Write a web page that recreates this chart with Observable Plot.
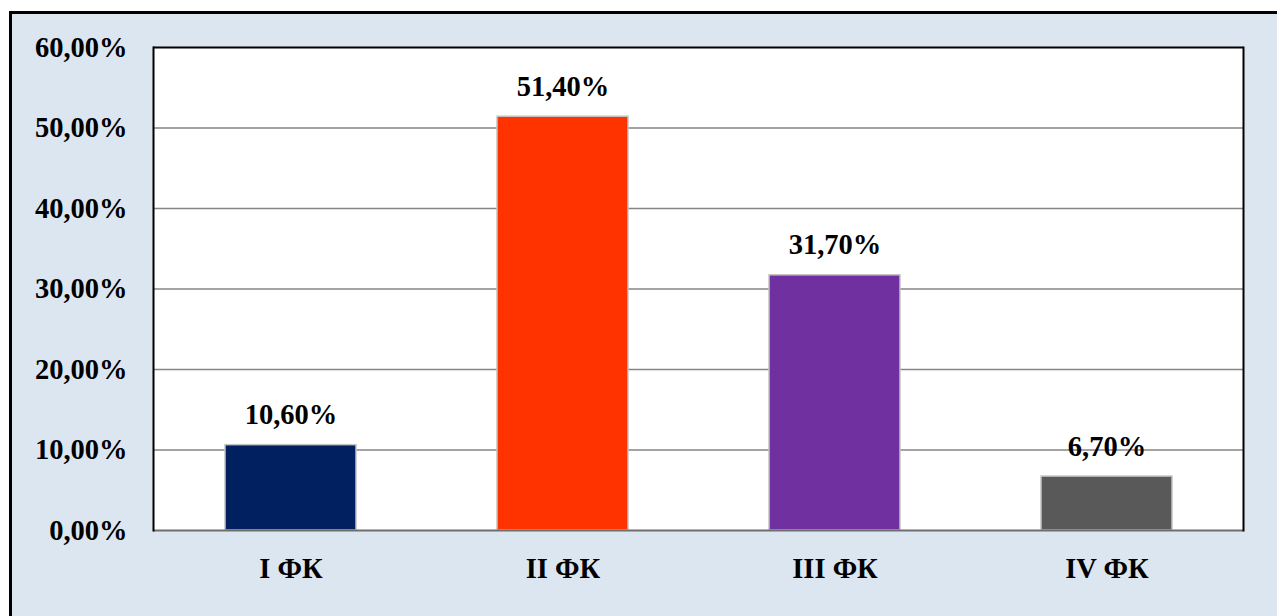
<!DOCTYPE html>
<html>
<head>
<meta charset="utf-8">
<script src="https://cdn.jsdelivr.net/npm/d3@7"></script>
<script src="https://cdn.jsdelivr.net/npm/@observablehq/plot@0.6"></script>
<style>
  html, body { margin: 0; padding: 0; background: #ffffff; width: 1277px; height: 616px; overflow: hidden; }
  #box { position: absolute; left: 9px; top: 11px; width: 1300px; height: 700px; border: 3px solid #000; background: #dce6f1; }
  #chart { position: absolute; left: 0; top: 0; }
</style>
</head>
<body>
<div id="box"></div>
<div id="chart"></div>
<script>
const categories = ["I ФК", "II ФК", "III ФК", "IV ФК"];
const values = [10.6, 51.4, 31.7, 6.7];
const colors = ["#002060", "#ff3300", "#7030a0", "#595959"];
const yTicks = [0, 10, 20, 30, 40, 50, 60];

const data = categories.map((c, i) => ({ cat: c, value: values[i], color: colors[i] }));
const fmt = d => d.toFixed(2).replace(".", ",") + "%";
const font = "'Liberation Serif', 'Times New Roman', serif";
const fs = 28.5;

const chart = Plot.plot({
  width: 1277,
  height: 616,
  marginLeft: 153,
  marginRight: 34,
  marginTop: 47,
  marginBottom: 86,
  style: { background: "transparent", fontFamily: font, fontWeight: "bold", fontSize: fs + "px", color: "#000" },
  x: { domain: categories, paddingInner: 0.52, paddingOuter: 0.26, label: null },
  y: { domain: [0, 60], label: null },
  marks: [
    Plot.frame({ fill: "#ffffff", stroke: "none" }),
    Plot.ruleY(yTicks.slice(1, -1), { stroke: "#858585", strokeWidth: 1.5 }),
    Plot.barY(data, { x: "cat", y: "value", fill: "color", stroke: "#c3c3c3", strokeWidth: 1.5 }),
    Plot.text(data, { x: "cat", y: "value", text: d => fmt(d.value), dy: -30, fontSize: fs, fontWeight: "bold", fill: "#000", fontFamily: font }),
    Plot.ruleY([0], { stroke: "#6e6e6e", strokeWidth: 2 }),
    Plot.ruleY([60], { stroke: "#000", strokeWidth: 2 }),
    Plot.frame({ stroke: "#000", strokeWidth: 2, anchor: "left" }),
    Plot.frame({ stroke: "#000", strokeWidth: 2, anchor: "right" }),
    Plot.axisY({ ticks: yTicks, tickSize: 0, tickPadding: 26, tickFormat: fmt, fontSize: fs, fontWeight: "bold", fontFamily: font, label: null }),
    Plot.axisX({ tickSize: 0, tickPadding: 27, fontSize: fs, fontWeight: "bold", fontFamily: font, label: null })
  ]
});
document.getElementById("chart").appendChild(chart);
</script>
</body>
</html>
